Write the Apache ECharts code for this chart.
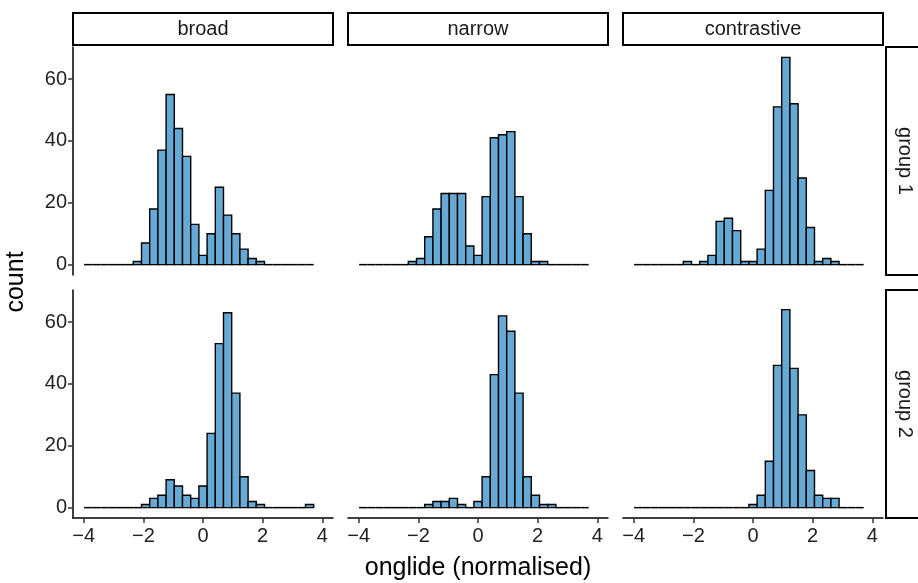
<!DOCTYPE html>
<html>
<head>
<meta charset="utf-8">
<script src="https://cdn.jsdelivr.net/npm/echarts@6.0.0/dist/echarts.min.js"></script>
<style>
  html, body { margin: 0; padding: 0; background: #fff; }
  #chart { width: 918px; height: 583px; }
</style>
</head>
<body>
<div id="chart"></div>
<script>
// facet labels
const columns = ['broad', 'narrow', 'contrastive'];
const rows = ['group 1', 'group 2'];

// histogram bins (centres), shared by every panel
const BIN_WIDTH = 0.275;
const binCenters = [-3.85, -3.575, -3.3, -3.025, -2.75, -2.475, -2.2, -1.925, -1.65, -1.375,
  -1.1, -0.825, -0.55, -0.275, 0, 0.275, 0.55, 0.825, 1.1, 1.375,
  1.65, 1.925, 2.2, 2.475, 2.75, 3.025, 3.3, 3.575];

// counts per panel, row by row
const broad1 = [0, 0, 0, 0, 0, 0, 1, 7, 18, 37, 55, 44, 35, 13, 3, 10, 25, 16, 10, 5, 2, 1, 0, 0, 0, 0, 0, 0];
const narrow1 = [0, 0, 0, 0, 0, 0, 1, 2, 9, 18, 23, 23, 23, 6, 3, 22, 41, 42, 43, 22, 10, 1, 1, 0, 0, 0, 0, 0];
const contrastive1 = [0, 0, 0, 0, 0, 0, 1, 0, 1, 3, 14, 15, 11, 1, 1, 5, 24, 51, 67, 52, 28, 12, 1, 2, 1, 0, 0, 0];
const broad2 = [0, 0, 0, 0, 0, 0, 0, 1, 3, 4, 9, 7, 4, 3, 7, 24, 53, 63, 37, 10, 2, 1, 0, 0, 0, 0, 0, 1];
const narrow2 = [0, 0, 0, 0, 0, 0, 0, 0, 1, 2, 2, 3, 1, 0, 2, 10, 43, 62, 57, 37, 10, 4, 1, 1, 0, 0, 0, 0];
const contrastive2 = [0, 0, 0, 0, 0, 0, 0, 0, 0, 0, 0, 0, 0, 0, 1, 4, 15, 46, 64, 45, 30, 12, 4, 3, 3, 0, 0, 0];

const panels = [broad1, narrow1, contrastive1, broad2, narrow2, contrastive2];

// axis ticks
const xTicks = [-4, -2, 0, 2, 4];
const yTicks = [0, 20, 40, 60];

const BAR_FILL = '#67a9d5';
const FONT = '"Liberation Sans", Arial, sans-serif';
const colLeft = [73, 348, 623];
const rowTop = [47, 290];
const PANEL_W = 260;
const PANEL_H = 228;

const chart = echarts.init(document.getElementById('chart'), null, { renderer: 'canvas' });

const grids = [], xAxes = [], yAxes = [], series = [];

panels.forEach((counts, i) => {
  const r = Math.floor(i / 3), c = i % 3;
  const bottom = r === rows.length - 1;
  const left = c === 0;
  grids.push({ left: colLeft[c], top: rowTop[r], width: PANEL_W, height: PANEL_H, outerBoundsMode: 'none' });
  xAxes.push({
    type: 'value', gridIndex: i, min: -4.36, max: 4.36,
    splitLine: { show: false },
    axisLine: { show: bottom, onZero: false, lineStyle: { color: '#000', width: 1.5 } },
    axisTick: { show: bottom, customValues: xTicks, length: 5, lineStyle: { color: '#333', width: 1.5 } },
    axisLabel: {
      show: bottom, customValues: xTicks, color: '#222', fontSize: 20, fontFamily: FONT, margin: 8,
      formatter: v => (v < 0 ? '\u2212' + Math.abs(v) : String(v))
    }
  });
  yAxes.push({
    type: 'value', gridIndex: i, min: -3.35, max: 70.35,
    splitLine: { show: false },
    axisLine: { show: left, onZero: false, lineStyle: { color: '#000', width: 1.5 } },
    axisTick: { show: left, customValues: yTicks, length: 5, lineStyle: { color: '#333', width: 1.5 } },
    axisLabel: { show: left, customValues: yTicks, color: '#222', fontSize: 20, fontFamily: FONT, margin: 6 }
  });
  series.push({
    type: 'custom', xAxisIndex: i, yAxisIndex: i,
    data: binCenters.map((b, k) => [b, counts[k]]),
    renderItem: (params, api) => {
      const x = api.value(0), n = api.value(1);
      const p0 = api.coord([x - BIN_WIDTH / 2, n]);
      const p1 = api.coord([x + BIN_WIDTH / 2, 0]);
      if (n === 0) {
        return { type: 'line', shape: { x1: p0[0], y1: p1[1], x2: p1[0], y2: p1[1] },
          style: { stroke: '#000', lineWidth: 1.5 } };
      }
      return { type: 'rect',
        shape: { x: p0[0], y: p0[1], width: p1[0] - p0[0], height: p1[1] - p0[1] },
        style: { fill: BAR_FILL, stroke: '#000', lineWidth: 1.4 } };
    }
  });
});

// facet strips and axis titles
const graphics = [];
columns.forEach((name, c) => {
  graphics.push({ type: 'rect', shape: { x: colLeft[c], y: 13, width: PANEL_W, height: 32 },
    style: { fill: '#fff', stroke: '#000', lineWidth: 2 } });
  graphics.push({ type: 'text', x: colLeft[c] + PANEL_W / 2, y: 29,
    style: { text: name, fill: '#1a1a1a', font: '20px ' + FONT, align: 'center', verticalAlign: 'middle' } });
});
rows.forEach((name, r) => {
  graphics.push({ type: 'rect', shape: { x: 886, y: rowTop[r], width: 40, height: PANEL_H },
    style: { fill: '#fff', stroke: '#000', lineWidth: 2 } });
  graphics.push({ type: 'text', x: 905, y: rowTop[r] + PANEL_H / 2, rotation: -Math.PI / 2,
    style: { text: name, fill: '#1a1a1a', font: '20px ' + FONT, align: 'center', verticalAlign: 'middle' } });
});
graphics.push({ type: 'text', x: 16, y: 282, rotation: Math.PI / 2,
  style: { text: 'count', fill: '#000', font: '25px ' + FONT, align: 'center', verticalAlign: 'middle' } });
graphics.push({ type: 'text', x: 478, y: 568,
  style: { text: 'onglide (normalised)', fill: '#000', font: '25px ' + FONT, align: 'center', verticalAlign: 'middle' } });

chart.setOption({
  animation: false,
  backgroundColor: '#fff',
  grid: grids,
  xAxis: xAxes,
  yAxis: yAxes,
  series: series,
  graphic: graphics
});
</script>
</body>
</html>
